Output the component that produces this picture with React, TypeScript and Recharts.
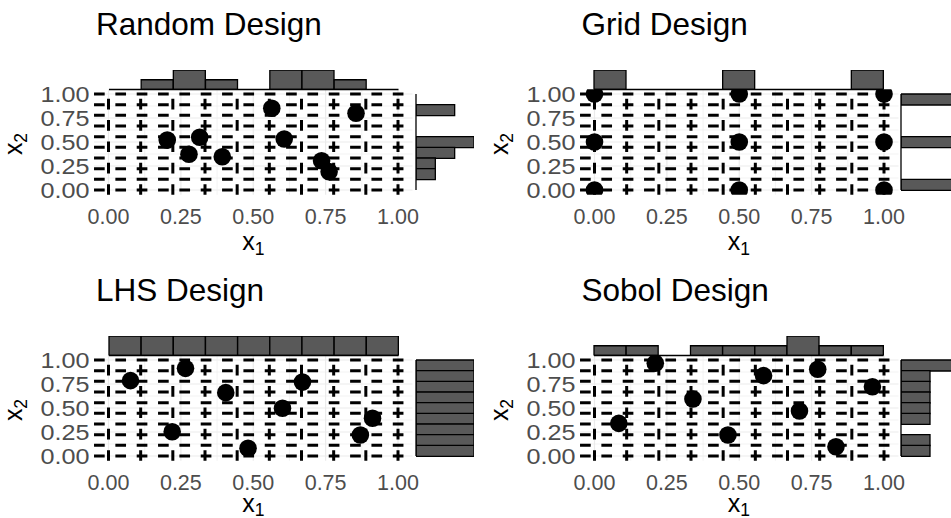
import React from 'react';
import { ScatterChart, Scatter, XAxis, YAxis, ReferenceLine, BarChart, Bar } from 'recharts';

const FONT = '"Liberation Sans", Arial, Helvetica, sans-serif';

// axis ticks and grid positions
const AXIS_TICKS = [0, 0.25, 0.5, 0.75, 1];
const GRID_MAJOR = [0, 0.25, 0.5, 0.75, 1];
const GRID_MINOR = [0.125, 0.375, 0.625, 0.875];
// stratum boundaries (dashed lines), 9 strata
const STRATA = [0, 1 / 9, 2 / 9, 3 / 9, 4 / 9, 5 / 9, 6 / 9, 7 / 9, 8 / 9, 1];
const BINS = ['b1', 'b2', 'b3', 'b4', 'b5', 'b6', 'b7', 'b8', 'b9'];

// Random design
const RANDOM_X = [0.203, 0.278, 0.315, 0.393, 0.564, 0.607, 0.736, 0.762, 0.855];
const RANDOM_Y = [0.52, 0.372, 0.549, 0.347, 0.851, 0.531, 0.305, 0.191, 0.799];
const RANDOM_TOP = [0, 1, 2, 1, 0, 2, 2, 1, 0];
const RANDOM_RIGHT = [0, 1, 1, 2, 3, 0, 0, 2, 0];

// Grid design
const GRID_X = [0, 0, 0, 0.5, 0.5, 0.5, 1, 1, 1];
const GRID_Y = [0, 0.5, 1, 0, 0.5, 1, 0, 0.5, 1];
const GRID_TOP = [3, 0, 0, 0, 3, 0, 0, 0, 3];
const GRID_RIGHT = [3, 0, 0, 0, 3, 0, 0, 0, 3];

// LHS design
const LHS_X = [0.076, 0.266, 0.22, 0.405, 0.482, 0.601, 0.67, 0.87, 0.912];
const LHS_Y = [0.785, 0.913, 0.253, 0.66, 0.08, 0.497, 0.77, 0.219, 0.393];
const LHS_TOP = [1, 1, 1, 1, 1, 1, 1, 1, 1];
const LHS_RIGHT = [1, 1, 1, 1, 1, 1, 1, 1, 1];

// Sobol design
const SOBOL_X = [0.21, 0.771, 0.584, 0.96, 0.34, 0.708, 0.084, 0.461, 0.834];
const SOBOL_Y = [0.966, 0.903, 0.837, 0.722, 0.594, 0.469, 0.34, 0.219, 0.097];
const SOBOL_TOP = [1, 1, 0, 1, 1, 1, 2, 1, 1];
const SOBOL_RIGHT = [1, 1, 0, 1, 1, 1, 1, 1, 2];

const PANELS = [
  { title: 'Random Design', xs: RANDOM_X, ys: RANDOM_Y, top: RANDOM_TOP, right: RANDOM_RIGHT, ox: 0, oy: 0, xt: 250, sub: 5 },
  { title: 'Grid Design', xs: GRID_X, ys: GRID_Y, top: GRID_TOP, right: GRID_RIGHT, ox: 485.5, oy: 0, xt: 250, sub: 5 },
  { title: 'LHS Design', xs: LHS_X, ys: LHS_Y, top: LHS_TOP, right: LHS_RIGHT, ox: 0, oy: 266, xt: 512, sub: 4 },
  { title: 'Sobol Design', xs: SOBOL_X, ys: SOBOL_Y, top: SOBOL_TOP, right: SOBOL_RIGHT, ox: 485.5, oy: 266, xt: 512, sub: 4 },
];

const fmt = (v: number) => v.toFixed(2);
const xTickStyle = { fill: '#4d4d4d', fontSize: 21.5, fontFamily: FONT };

const YTick = (props: any) => (
  <g transform={`translate(${props.x},${props.y}) scale(1.12,1)`}>
    <text x={0} y={0} dy="0.355em" textAnchor="end" fontSize={22.5} fontFamily={FONT} fill="#4d4d4d">
      {fmt(props.payload.value)}
    </text>
  </g>
);

const Dot = (props: any) => <circle cx={props.cx} cy={props.cy} r={8.8} fill="#000" />;

function Panel({ p }: { p: any }) {
  const pts = p.xs.map((x: number, i: number) => ({ x, y: p.ys[i] }));
  const topData = BINS.map((b, i) => ({ bin: b, count: p.top[i] }));
  const rightData = BINS.map((b, i) => ({ bin: b, count: p.right[i] })).reverse();
  const topMax = Math.max(...p.top);
  const rightMax = Math.max(...p.right);
  return (
    <>
      <div style={{ position: 'absolute', left: p.ox, top: p.oy + 80 }}>
        <ScatterChart width={420} height={190} margin={{ top: 9.2, right: 7.525, bottom: 0, left: 0 }}>
          <XAxis
            type="number"
            dataKey="x"
            domain={[-0.05, 1.05]}
            ticks={AXIS_TICKS}
            tickFormatter={fmt}
            interval={0}
            axisLine={false}
            tickLine={false}
            tickSize={0}
            tickMargin={14}
            height={75.2}
            tick={xTickStyle}
            allowDataOverflow
          />
          <YAxis
            type="number"
            dataKey="y"
            domain={[-0.05, 1.05]}
            ticks={AXIS_TICKS}
            interval={0}
            axisLine={false}
            tickLine={false}
            tickSize={0}
            tickMargin={4.5}
            width={94.025}
            tick={<YTick />}
            allowDataOverflow
          />
          {GRID_MINOR.map((v) => (
            <ReferenceLine key={'mx' + v} x={v} stroke="#ebebeb" strokeWidth={0.6} />
          ))}
          {GRID_MINOR.map((v) => (
            <ReferenceLine key={'my' + v} y={v} stroke="#ebebeb" strokeWidth={0.6} />
          ))}
          {GRID_MAJOR.map((v) => (
            <ReferenceLine key={'Mx' + v} x={v} stroke="#ebebeb" strokeWidth={1.2} />
          ))}
          {GRID_MAJOR.map((v) => (
            <ReferenceLine key={'My' + v} y={v} stroke="#ebebeb" strokeWidth={1.2} />
          ))}
          {STRATA.map((v) => (
            <ReferenceLine key={'sy' + v} y={v} stroke="#000" strokeWidth={3} strokeDasharray="10.67 10.67" />
          ))}
          {STRATA.map((v) => (
            <ReferenceLine key={'sx' + v} x={v} stroke="#000" strokeWidth={3} strokeDasharray="10.67 10.67" />
          ))}
          <Scatter data={pts} shape={Dot} fill="#000" isAnimationActive={false} />
        </ScatterChart>
      </div>
      <div style={{ position: 'absolute', left: p.ox + 106.5, top: p.oy + 67.5 }}>
        <BarChart width={293.5} height={23.5} data={topData} margin={{ top: 2, right: 2, bottom: 2, left: 2 }} barCategoryGap={0} barGap={0}>
          <XAxis dataKey="bin" hide />
          <YAxis type="number" hide domain={[0, topMax]} allowDataOverflow />
          <ReferenceLine y={0} stroke="#000" strokeWidth={1.3} />
          <Bar dataKey="count" fill="#595959" stroke="#000" strokeWidth={1.3} isAnimationActive={false} />
        </BarChart>
      </div>
      <div style={{ position: 'absolute', left: p.ox + 413.5, top: p.oy + 92 }}>
        <BarChart layout="vertical" width={62} height={100} data={rightData} margin={{ top: 2, right: 2, bottom: 2, left: 2 }} barCategoryGap={0} barGap={0}>
          <YAxis type="category" dataKey="bin" hide />
          <XAxis type="number" hide domain={[0, rightMax]} allowDataOverflow />
          <ReferenceLine x={0} stroke="#000" strokeWidth={1.3} />
          <Bar dataKey="count" fill="#595959" stroke="#000" strokeWidth={1.3} isAnimationActive={false} />
        </BarChart>
      </div>
    </>
  );
}

export default function App() {
  return (
    <div style={{ position: 'absolute', left: 0, top: 0, width: 951, height: 518, overflow: 'hidden', background: '#fff', fontFamily: FONT }}>
      <svg width={951} height={518} style={{ position: 'absolute', left: 0, top: 0 }}>
        {PANELS.map((p) => (
          <g key={p.title} fontFamily={FONT}>
            <text x={p.ox + 96} y={p.oy + 35} fontSize={31.5} fill="#000">{p.title}</text>
            <text x={p.ox + 253.25} y={p.xt} fontSize={25} fill="#000" textAnchor="middle">
              x<tspan fontSize={17.5} dy={p.sub}>1</tspan>
            </text>
            <text transform={`translate(${p.ox + 22},${p.oy + 144}) rotate(-90)`} fontSize={25} fill="#000" textAnchor="middle">
              x<tspan fontSize={17.5} dy={5}>2</tspan>
            </text>
          </g>
        ))}
      </svg>
      {PANELS.map((p) => (
        <Panel key={p.title} p={p} />
      ))}
    </div>
  );
}
